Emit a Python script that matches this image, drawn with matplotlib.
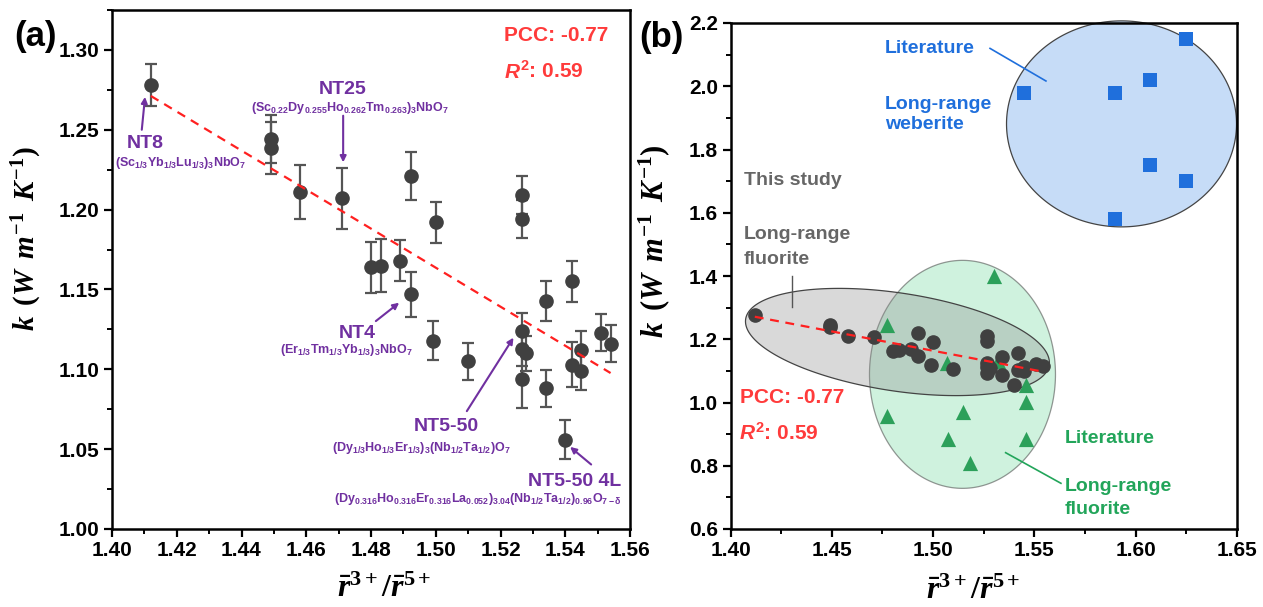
import numpy as np
import matplotlib
matplotlib.use('Agg')
import matplotlib.pyplot as plt
from matplotlib.patches import Polygon
from matplotlib.ticker import MultipleLocator, FormatStrFormatter

plt.rcParams['font.family'] = ['Liberation Sans', 'DejaVu Sans']
plt.rcParams['font.weight'] = 'bold'
plt.rcParams['mathtext.fontset'] = 'custom'
plt.rcParams['mathtext.rm'] = 'Liberation Serif:bold'
plt.rcParams['mathtext.it'] = 'Liberation Serif:italic:bold'
plt.rcParams['mathtext.bf'] = 'Liberation Serif:bold'

# ---------------- data ----------------
# this study (panel a and b)
ratio = [1.412, 1.449, 1.449, 1.458, 1.471, 1.480, 1.483, 1.489, 1.4925, 1.4925,
         1.499, 1.500, 1.510, 1.5265, 1.5265, 1.5265, 1.5265, 1.5265, 1.528, 1.534,
         1.534, 1.540, 1.542, 1.542, 1.545, 1.545, 1.551, 1.554]
k_val = [1.278, 1.2445, 1.2385, 1.211, 1.207, 1.164, 1.165, 1.168, 1.221, 1.147,
         1.118, 1.192, 1.105, 1.209, 1.194, 1.124, 1.113, 1.094, 1.110, 1.143,
         1.088, 1.056, 1.155, 1.103, 1.112, 1.099, 1.123, 1.116]
k_err = [0.013, 0.015, 0.0165, 0.017, 0.019, 0.016, 0.0165, 0.013, 0.015, 0.014,
         0.012, 0.013, 0.0115, 0.012, 0.012, 0.011, 0.011, 0.018, 0.011, 0.0125,
         0.0115, 0.012, 0.013, 0.014, 0.012, 0.012, 0.0117, 0.0115]
# literature, long-range weberite
web_ratio = [1.545, 1.590, 1.607, 1.625, 1.607, 1.625, 1.590]
web_k = [1.98, 1.98, 2.02, 2.15, 1.75, 1.70, 1.58]
# literature, long-range fluorite
flu_ratio = [1.477, 1.507, 1.530, 1.532, 1.477, 1.515, 1.5075, 1.518, 1.546, 1.546, 1.546]
flu_k = [1.245, 1.124, 1.40, 1.13, 0.958, 0.971, 0.885, 0.808, 1.056, 1.003, 0.885]

pcc_text = 'PCC: -0.77'
r2_value = '0.59'

xticks_a = [1.40, 1.42, 1.44, 1.46, 1.48, 1.50, 1.52, 1.54, 1.56]
yticks_a = [1.00, 1.05, 1.10, 1.15, 1.20, 1.25, 1.30]
xticks_b = [1.40, 1.45, 1.50, 1.55, 1.60, 1.65]
yticks_b = [0.6, 0.8, 1.0, 1.2, 1.4, 1.6, 1.8, 2.0, 2.2]

# ---------------- style ----------------
PURPLE = '#7030A0'
RED = '#FF3B3B'
DARK = '#404040'
BLUE = '#1F6FDC'
GREEN = '#22A55A'
GREYTXT = '#666666'

W, H = 1263, 607
fig = plt.figure(figsize=(W / 100, H / 100), dpi=100)
axA = fig.add_axes([112 / W, 1 - 529 / H, (630 - 112) / W, (529 - 10) / H])
axB = fig.add_axes([730.5 / W, 1 - 529 / H, (1237 - 730.5) / W, (529 - 23) / H])

ylab = r'$k\ \,(W\ \,m^{-1}\ \,K^{-1})$'
xlab = r'$\bar{r}^{3+}/\bar{r}^{5+}$'


def style_axes(ax, xt, yt, xminor, yminor, xfmt, yfmt):
    ax.set_xticks(xt)
    ax.set_yticks(yt)
    ax.xaxis.set_minor_locator(MultipleLocator(xminor))
    ax.yaxis.set_minor_locator(MultipleLocator(yminor))
    ax.xaxis.set_major_formatter(FormatStrFormatter(xfmt))
    ax.yaxis.set_major_formatter(FormatStrFormatter(yfmt))
    ax.tick_params(which='major', direction='out', length=6, width=1.6,
                   labelsize=15, pad=3)
    ax.tick_params(which='minor', direction='out', length=3.5, width=1.4)
    for sp in ax.spines.values():
        sp.set_linewidth(1.8)


# ---------------- panel (a) ----------------
axA.set_xlim(1.40, 1.56)
axA.set_ylim(1.00, 1.325)
style_axes(axA, xticks_a, yticks_a, 0.01, 0.025, '%.2f', '%.2f')
axA.errorbar(ratio, k_val, yerr=k_err, fmt='o', color=DARK, ms=9.5,
             ecolor='#555555', elinewidth=1.6, capsize=4, capthick=1.6, zorder=3)
coef = np.polyfit(ratio, k_val, 1)
xs = np.array([min(ratio), max(ratio)])
axA.plot(xs, np.polyval(coef, xs), color='#FF2020', lw=1.6, dashes=(4, 3), zorder=4)

axA.text(1.5211, 1.3088, pcc_text, color=RED, fontsize=15, ha='left', va='center')
rA = axA.text(1.5214, 1.2858, 'R', color=RED, fontsize=15, style='italic',
              ha='left', va='center')
axA.annotate(r'$\mathregular{^2}$: ' + r2_value, xy=(1, 0), xycoords=rA,
             color=RED, fontsize=15, ha='left', va='bottom')

labels_a = [
    ('NT8', (1.4104, 1.2411), r'(Sc$\mathregular{_{1/3}}$Yb$\mathregular{_{1/3}}$Lu$\mathregular{_{1/3}}$)$\mathregular{_3}$NbO$\mathregular{_7}$', (1.4213, 1.2289),
     (1.4092, 1.250), (1.4102, 1.2706)),
    ('NT25', (1.4713, 1.2751), r'(Sc$\mathregular{_{0.22}}$Dy$\mathregular{_{0.255}}$Ho$\mathregular{_{0.262}}$Tm$\mathregular{_{0.263}}$)$\mathregular{_3}$NbO$\mathregular{_7}$', (1.4735, 1.2639),
     (1.4714, 1.2588), (1.4714, 1.2296)),
    ('NT4', (1.4759, 1.1223), r'(Er$\mathregular{_{1/3}}$Tm$\mathregular{_{1/3}}$Yb$\mathregular{_{1/3}}$)$\mathregular{_3}$NbO$\mathregular{_7}$', (1.4725, 1.1119),
     (1.4815, 1.1302), (1.4887, 1.1417)),
    ('NT5-50', (1.5034, 1.0639), r'(Dy$\mathregular{_{1/3}}$Ho$\mathregular{_{1/3}}$Er$\mathregular{_{1/3}}$)$\mathregular{_3}$(Nb$\mathregular{_{1/2}}$Ta$\mathregular{_{1/2}}$)O$\mathregular{_7}$', (1.4954, 1.0506),
     (1.5096, 1.0738), (1.5240, 1.1198)),
    ('NT5-50 4L', (1.5430, 1.0296), r'(Dy$\mathregular{_{0.316}}$Ho$\mathregular{_{0.316}}$Er$\mathregular{_{0.316}}$La$\mathregular{_{0.052}}$)$\mathregular{_{3.04}}$(Nb$\mathregular{_{1/2}}$Ta$\mathregular{_{1/2}}$)$\mathregular{_{0.96}}$O$\mathregular{_{7-δ}}$', (1.5129, 1.0188),
     (1.5480, 1.0404), (1.5415, 1.0514)),
]
for name, npos, formula, fpos, a0, a1 in labels_a:
    axA.text(*npos, name, color=PURPLE, fontsize=14, ha='center', va='center')
    axA.text(*fpos, formula, color=PURPLE, fontsize=9, ha='center', va='center')
    axA.annotate('', xy=a1, xytext=a0,
                 arrowprops=dict(arrowstyle='-|>', color=PURPLE, lw=1.5,
                                 mutation_scale=9, shrinkA=0, shrinkB=0))

axA.set_ylabel(ylab, fontsize=21)
axA.set_xlabel(xlab, fontsize=23)
axA.yaxis.set_label_coords(-0.164, 0.559)
axA.xaxis.set_label_coords(0.525, -0.1156)
axA.yaxis.label.set_va('center')
axA.xaxis.label.set_va('center')

# ---------------- panel (b) ----------------
axB.set_xlim(1.40, 1.65)
axB.set_ylim(0.6, 2.2)
style_axes(axB, xticks_b, yticks_b, 0.025, 0.1, '%.2f', '%.1f')


def ellipse_poly(ax, cx, cy, a_px, b_px, angle_deg, n=240):
    c = ax.transData.transform((cx, cy))
    t = np.linspace(0, 2 * np.pi, n)
    th = np.deg2rad(angle_deg)
    ex, ey = a_px * np.cos(t), b_px * np.sin(t)
    xd = c[0] + ex * np.cos(th) - ey * np.sin(th)
    yd = c[1] + ex * np.sin(th) + ey * np.cos(th)
    return ax.transData.inverted().transform(np.column_stack([xd, yd]))


# blue (weberite) ellipse
axB.add_patch(Polygon(ellipse_poly(axB, 1.593, 1.881, 115, 103, 0), closed=True,
                      facecolor='#c6dcf7', edgecolor='#444444', lw=0.9,
                      clip_on=False, zorder=1))
# green (fluorite literature) ellipse
axB.add_patch(Polygon(ellipse_poly(axB, 1.5145, 1.089, 93, 114, 0), closed=True,
                      facecolor='#a9e8c3', alpha=0.55, edgecolor='#444444', lw=0.9,
                      zorder=1))
# grey (this study) ellipse
axB.add_patch(Polygon(ellipse_poly(axB, 1.4824, 1.1913, 153.5, 49, -8.6), closed=True,
                      facecolor=(0.55, 0.55, 0.55, 0.33), edgecolor='#444444', lw=0.9,
                      zorder=1.5))

axB.scatter(web_ratio, web_k, marker='s', s=95, color=BLUE, zorder=3, linewidths=0)
axB.scatter(flu_ratio, flu_k, marker='^', s=120, color='#2CA05A', zorder=3, linewidths=0)
axB.plot(ratio, k_val, 'o', color=DARK, ms=9.5, zorder=4, linestyle='none')
axB.plot(xs, np.polyval(coef, xs), color='#FF2020', lw=1.6, dashes=(4, 3), zorder=5)

axB.text(1.4762, 2.120, 'Literature', color=BLUE, fontsize=14, ha='left', va='center')
axB.text(1.4762, 1.969, 'Long-range\nweberite', color=BLUE, fontsize=14, ha='left',
         va='top', linespacing=1.2, transform=axB.transData)
axB.plot([1.5281, 1.5557], [2.1197, 2.0166], color=BLUE, lw=1.2, zorder=3)

axB.text(1.4065, 1.7004, 'This study', color=GREYTXT, fontsize=14, ha='left', va='center')
axB.text(1.4065, 1.5328, 'Long-range', color=GREYTXT, fontsize=14, ha='left', va='center')
axB.text(1.4065, 1.4528, 'fluorite', color=GREYTXT, fontsize=14, ha='left', va='center')
axB.plot([1.4304, 1.4304], [1.400, 1.303], color='#555555', lw=1.0, zorder=3)

axB.text(1.4047, 1.0152, pcc_text, color=RED, fontsize=15, ha='left', va='center')
rB = axB.text(1.4047, 0.9004, 'R', color=RED, fontsize=15, style='italic',
              ha='left', va='center')
axB.annotate(r'$\mathregular{^2}$: ' + r2_value, xy=(1, 0), xycoords=rB,
             color=RED, fontsize=15, ha='left', va='bottom')

axB.text(1.5651, 0.8877, 'Literature', color=GREEN, fontsize=14, ha='left', va='center')
axB.text(1.5651, 0.7338, 'Long-range', color=GREEN, fontsize=14, ha='left', va='center')
axB.text(1.5651, 0.6632, 'fluorite', color=GREEN, fontsize=14, ha='left', va='center')
axB.plot([1.5358, 1.5631], [0.8413, 0.7445], color=GREEN, lw=1.2, zorder=3)

axB.set_ylabel(ylab, fontsize=22)
axB.set_xlabel(xlab, fontsize=23)
axB.yaxis.set_label_coords(-0.151, 0.569)
axB.xaxis.set_label_coords(0.479, -0.1225)
axB.yaxis.label.set_va('center')
axB.xaxis.label.set_va('center')

# panel letters
fig.text(35 / W, 1 - 36.5 / H, '(a)', fontsize=25, ha='center', va='center')
fig.text(661 / W, 1 - 37.5 / H, '(b)', fontsize=25, ha='center', va='center')

fig.savefig('out.png', dpi=100)
